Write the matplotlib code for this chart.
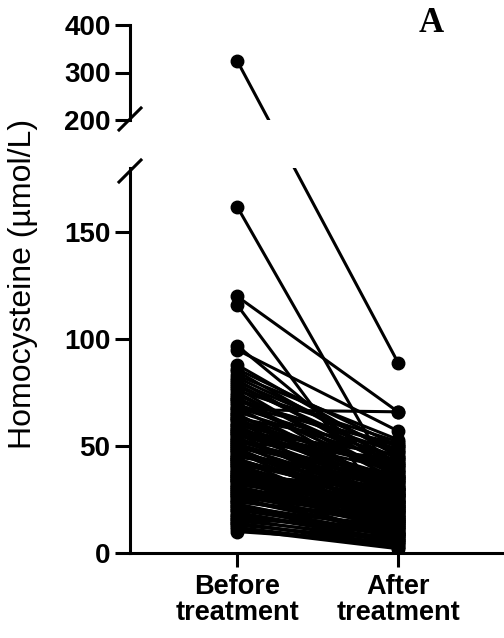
import matplotlib
matplotlib.use("Agg")
import matplotlib.pyplot as plt
from matplotlib.lines import Line2D

categories = ["Before\ntreatment", "After\ntreatment"]

before = [325, 162, 120, 116, 97, 95, 88, 86, 85, 83, 81, 80, 78, 77, 76, 74,
          73, 72, 70, 69, 68, 67, 66, 65, 64, 63, 62, 61, 60, 59, 58, 57, 56, 56,
          55, 54, 53, 52, 51, 50, 50, 49, 48, 47, 47, 46, 45, 44, 44, 43, 42, 41,
          41, 40, 39, 38, 38, 37, 36, 36, 35, 34, 34, 33, 32, 31, 31, 30, 29, 28,
          27, 26, 25, 24, 23, 22, 21, 20, 19, 18, 17, 16, 15, 14, 13, 12, 10,
          82, 79, 75, 71, 63, 58, 54, 52, 49, 46, 43, 40, 37, 35, 33, 30, 28, 26,
          24, 22, 20, 18, 16, 14, 11,
          72, 68, 65, 62, 60, 57, 55, 53, 51, 48, 45, 44, 42, 39, 36, 34, 32, 29,
          27, 25]
after = [89, 30, 66, 15, 35, 57, 45, 50, 42, 53, 38, 48, 44, 33, 52, 40,
         28, 47, 36, 51, 30, 66, 43, 25, 38, 49, 32, 27, 41, 22, 35, 46, 29, 18,
         39, 24, 31, 44, 20, 34, 26, 37, 23, 30, 15, 28, 33, 21, 12, 27, 25, 19,
         30, 16, 24, 22, 14, 26, 20, 11, 18, 23, 9, 17, 21, 13, 16, 19, 8, 15,
         12, 17, 10, 14, 7, 11, 9, 13, 6, 8, 10, 5, 7, 4, 6, 3, 5,
         47, 41, 36, 50, 29, 40, 25, 35, 18, 32, 27, 14, 22, 10, 24, 12, 19, 8,
         16, 4, 9, 6, 11, 3, 2,
         34, 45, 28, 39, 20, 33, 42, 26, 30, 17, 36, 21, 27, 13, 31, 19, 24, 15,
         22, 9]

lower_ticks = [0, 50, 100, 150]
upper_ticks = [200, 300, 400]

W, H = 504, 638
fig = plt.figure(figsize=(W / 100, H / 100), dpi=100)

def fx(px):
    return px / W

def fy(py):
    return (H - py) / H

ax_x0, ax_x1 = 130, 504
lo_top, lo_bot = 168, 553
hi_top, hi_bot = 25, 120
ax_lo = fig.add_axes([fx(ax_x0), fy(lo_bot), fx(ax_x1 - ax_x0), (lo_bot - lo_top) / H])
ax_hi = fig.add_axes([fx(ax_x0), fy(hi_bot), fx(ax_x1 - ax_x0), (hi_bot - hi_top) / H])

xlim = (-0.665, 1.658)
ax_lo.set_xlim(*xlim)
ax_hi.set_xlim(*xlim)
ax_lo.set_ylim(0, 180)
ax_hi.set_ylim(200, 400)

lw = 2.2
ms = 9
for b, a in zip(before, after):
    if b <= 180:
        ax_lo.plot([0, 1], [b, a], color="black", lw=lw, marker="o", ms=ms,
                   solid_capstyle="butt")
    else:
        p0 = ax_hi.transData.transform((0, b))
        p1 = ax_lo.transData.transform((1, a))
        a_hi = ax_hi.transData.inverted().transform(p1)
        b_lo = ax_lo.transData.inverted().transform(p0)
        ax_hi.plot([0, a_hi[0]], [b, a_hi[1]], color="black", lw=lw)
        ax_hi.plot([0], [b], color="black", marker="o", ms=ms)
        ax_lo.plot([b_lo[0], 1], [b_lo[1], a], color="black", lw=lw)
        ax_lo.plot([1], [a], color="black", marker="o", ms=ms)

tick_font = dict(family="Liberation Sans", weight="bold", size=20)
for ax in (ax_lo, ax_hi):
    ax.spines["top"].set_visible(False)
    ax.spines["right"].set_visible(False)
    ax.spines["left"].set_linewidth(2.2)
    ax.spines["bottom"].set_linewidth(2.2)
    ax.patch.set_alpha(0)
    ax.tick_params(axis="y", length=11, width=2.2, pad=3)
    ax.tick_params(axis="x", length=10, width=2.2, pad=5)

ax_hi.spines["bottom"].set_visible(False)
ax_hi.set_xticks([])
ax_hi.set_yticks(upper_ticks)
ax_hi.set_yticklabels([str(t) for t in upper_ticks], fontdict=tick_font)
ax_lo.set_yticks(lower_ticks)
ax_lo.set_yticklabels([str(t) for t in lower_ticks], fontdict=tick_font)
ax_lo.set_xticks([0, 1])
ax_lo.set_xticklabels(categories, fontdict=dict(family="Liberation Sans", weight="bold", size=19.5),
                      linespacing=1.0)

# break marks
for cy in (119, 171):
    fig.add_artist(Line2D([fx(ax_x0 - 11), fx(ax_x0 + 11)], [fy(cy + 11), fy(cy - 11)],
                          color="black", lw=2.2, transform=fig.transFigure))

fig.text(fx(23), fy(284), "Homocysteine (\u00b5mol/L)", rotation=90, ha="center", va="center",
         family="Liberation Sans", size=23)
fig.text(fx(431), fy(23), "A", ha="center", va="center", family="Liberation Serif",
         weight="bold", size=25)

fig.savefig("out.png", dpi=100)
